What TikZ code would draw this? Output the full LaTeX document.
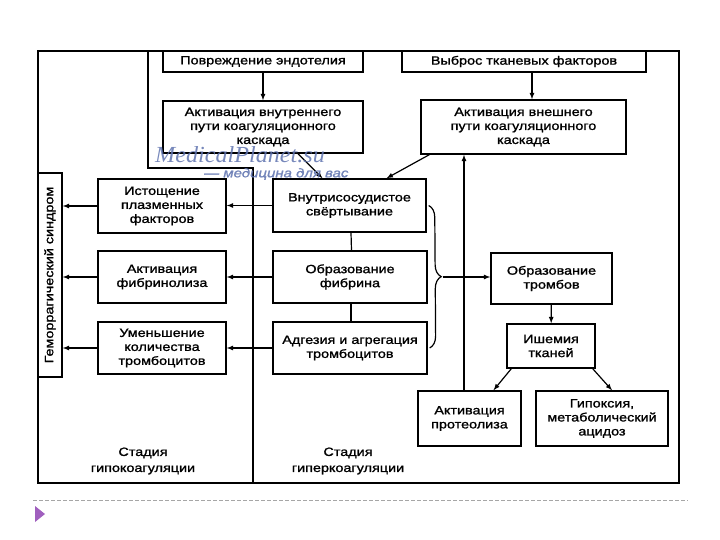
\documentclass[tikz,border=0pt]{standalone}
\usepackage{fontspec}
\setmainfont{Liberation Sans}[FakeStretch=1.2,RawFeature={embolden=1.3}]
\newfontfamily\wmserif{Liberation Serif}[FakeStretch=1.05]
\usepackage{tikz}
\usetikzlibrary{arrows,positioning,calc,decorations.pathreplacing}

\definecolor{wmblue}{RGB}{95,115,175}
\definecolor{bulletpurple}{RGB}{160,95,190}

\tikzset{
  box/.style={draw, line width=1.4pt, align=center, inner sep=1pt, text=black,
    font=\fontsize{12}{14}\selectfont},
  stagelbl/.style={align=center, text=black, font=\fontsize{12}{16}\selectfont},
  conn/.style={->, line width=1.2pt, >=latex},
}

\begin{document}
\begin{tikzpicture}[x=1pt, y=-1pt]
		\useasboundingbox (0,0) rectangle (720,540);
		\draw[line width=1.8pt] (38,51) rectangle (679,483);
		\draw[line width=1.8pt] (148,51) -- (148,168) -- (253,168) -- (253,483);
		
		\node[box, minimum width=200pt, minimum height=21pt] (povr) at (263,61.5) {Повреждение эндотелия};
		\node[box, minimum width=244pt, minimum height=21pt] (vybros) at (524,61.5) {Выброс тканевых факторов};
		\node[box, minimum width=200pt, minimum height=52pt] (vnutr) at (263,127) {Активация внутреннего\\пути коагуляционного\\каскада};
		\node[box, minimum width=205pt, minimum height=54pt] (vnesh) at (523.5,127) {Активация внешнего\\пути коагуляционного\\каскада};
		\node[box, minimum width=153pt, minimum height=53pt] (dvs) at (349.5,205.5) {Внутрисосудистое\\свёртывание};
		\node[box, minimum width=154pt, minimum height=52pt] (fibrin) at (350,277) {Образование\\фибрина};
		\node[box, minimum width=154pt, minimum height=52pt] (adgez) at (350,348) {Адгезия и агрегация\\тромбоцитов};
		\node[box, minimum width=128pt, minimum height=54pt] (istosh) at (162,206) {Истощение\\плазменных\\факторов};
		\node[box, minimum width=128pt, minimum height=52pt] (fibrinoliz) at (162,277) {Активация\\фибринолиза};
		\node[box, minimum width=128pt, minimum height=52pt] (umensh) at (162,348) {Уменьшение\\количества\\тромбоцитов};
		\node[box, minimum width=24pt, minimum height=204pt] (gemor) at (50,275) {\rotatebox{90}{Геморрагический синдром}};
		\node[box, minimum width=121pt, minimum height=51pt] (tromb) at (551.5,278.5) {Образование\\тромбов};
		\node[box, minimum width=88pt, minimum height=44pt] (ishem) at (551,346) {Ишемия\\тканей};
		\node[box, minimum width=103pt, minimum height=55pt] (proteoliz) at (469.5,418.5) {Активация\\протеолиза};
		\node[box, minimum width=132pt, minimum height=55pt] (gipoks) at (602,418.5) {Гипоксия,\\метаболический\\ацидоз};
		\node[stagelbl] (hypo) at (143,461) {Стадия\\гипокоагуляции};
		\node[stagelbl] (hyper) at (348,461) {Стадия\\гиперкоагуляции};
		
		\draw[line width=1.2pt, decorate, decoration={brace, amplitude=12pt}] ([xshift=2pt]dvs.east) -- ([xshift=2pt]adgez.east);
		\coordinate (tip) at ([xshift=15pt]fibrin.east);
		
		\path[conn] (povr) edge (vnutr);
		\path[conn] ([xshift=8pt]vybros.south) edge ([xshift=8pt]vybros.south |- vnesh.north);
		\path[conn] ([xshift=35pt]vnutr.south) edge ([xshift=-27pt]dvs.north);
		\path[conn] ([xshift=9pt]vnesh.south west) edge ([xshift=37pt]dvs.north);
		\path[conn] (dvs.west) edge (dvs.west -| istosh.east);
		\path[conn] (fibrin.west) edge (fibrinoliz.east);
		\path[conn] (adgez.west) edge (umensh.east);
		\path[conn] (istosh.west) edge (istosh.west -| gemor.east);
		\path[conn] (fibrinoliz.west) edge (fibrinoliz.west -| gemor.east);
		\path[conn] (umensh.west) edge (umensh.west -| gemor.east);
		\path[line width=1.2pt] ([xshift=1.5pt]dvs.south) edge ([xshift=1.5pt]fibrin.north);
		\path[line width=1.2pt] ([xshift=1pt]fibrin.south) edge ([xshift=1pt]adgez.north);
		\path[conn] (tip) edge (tromb.west |- tip);
		\path[conn] (tromb) edge (ishem);
		\path[conn] ([xshift=5pt]ishem.south west) edge ([xshift=24pt]proteoliz.north);
		\path[conn] ([xshift=-3pt]ishem.south east) edge ([xshift=10pt]gipoks.north);
		\path[conn] ([xshift=-5.5pt]proteoliz.north) edge ([xshift=-5.5pt]proteoliz.north |- vnesh.south);
		
		\node[text=wmblue, opacity=0.85, font=\wmserif\itshape\fontsize{23}{23}\selectfont, inner sep=0pt] (wmsite) at (240,155) {MedicalPlanet.su};
		\node[text=wmblue, opacity=0.85, font=\itshape\fontsize{12.5}{12.5}\selectfont, anchor=west, inner sep=0pt] (wmslogan) at (204,174) {— медицина для вас};
		
		\draw[gray!70, line width=0.7pt, dash pattern=on 4pt off 2pt] (33,500) -- (688,500);
		\fill[bulletpurple] (35,506) -- (45,514) -- (35,522) -- cycle;
\end{tikzpicture}
\end{document}
